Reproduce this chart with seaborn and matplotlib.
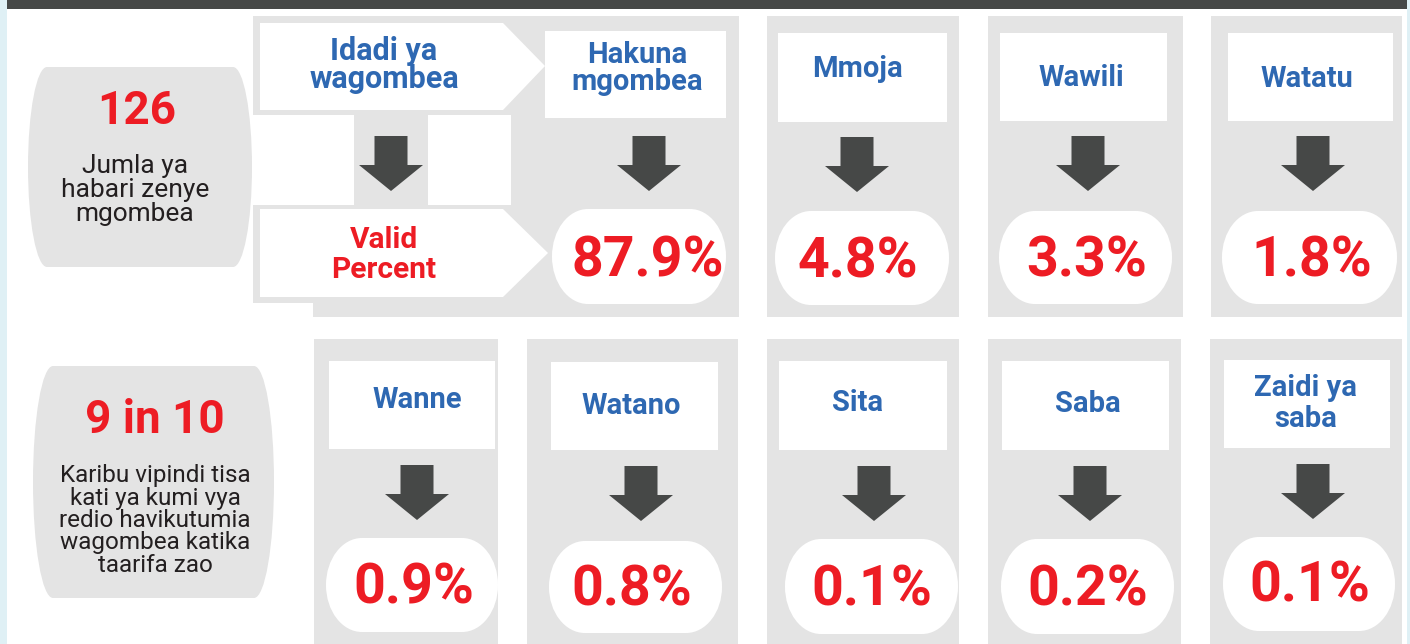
import matplotlib
matplotlib.use("Agg")
import matplotlib.pyplot as plt
from matplotlib.path import Path
from matplotlib.patches import PathPatch, Polygon, Rectangle
import seaborn as sns

# ---------------- data ----------------
total_items = 126
total_caption = ["Jumla ya", "habari zenye", "mgombea"]
share_headline = "9 in 10"
share_caption = ["Karibu vipindi tisa", "kati ya kumi vya", "redio havikutumia",
                 "wagombea katika", "taarifa zao"]
header_label = ["Idadi ya", "wagombea"]
percent_label = ["Valid", "Percent"]
categories = ["Hakuna\nmgombea", "Mmoja", "Wawili", "Watatu",
              "Wanne", "Watano", "Sita", "Saba", "Zaidi ya\nsaba"]
valid_percent = [87.9, 4.8, 3.3, 1.8, 0.9, 0.8, 0.1, 0.2, 0.1]

# ---------------- layout (pixels) ----------------
layout = [
    dict(grey=(313, 739, 16, 317), box=(545, 726, 31, 118), lx=637, lb=[63, 90], ax=649, at=136,
         vbox=(552, 726, 209, 304), vx=648, vb=276),
    dict(grey=(767, 959, 16, 317), box=(778, 947, 33, 122), lx=857, lb=[77], ax=857, at=137,
         vbox=(775, 949, 211, 305), vx=858, vb=277),
    dict(grey=(988, 1183, 16, 317), box=(1000, 1167, 33, 121), lx=1081, lb=[86], ax=1088, at=136,
         vbox=(999, 1172, 211, 304), vx=1087, vb=276),
    dict(grey=(1211, 1402, 16, 317), box=(1228, 1393, 33, 121), lx=1307, lb=[87], ax=1313, at=136,
         vbox=(1222, 1397, 211, 304), vx=1312, vb=276),
    dict(grey=(314, 498, 339, 650), box=(329, 495, 361, 449), lx=417, lb=[408], ax=417, at=465,
         vbox=(326, 498, 538, 632), vx=414, vb=603),
    dict(grey=(527, 738, 339, 650), box=(551, 718, 362, 450), lx=631, lb=[414], ax=641, at=466,
         vbox=(549, 722, 541, 633), vx=632, vb=605),
    dict(grey=(767, 959, 339, 650), box=(779, 947, 361, 450), lx=858, lb=[411], ax=874, at=466,
         vbox=(785, 958, 539, 634), vx=872, vb=605),
    dict(grey=(988, 1181, 339, 650), box=(1002, 1169, 361, 450), lx=1088, lb=[412], ax=1090, at=466,
         vbox=(1001, 1174, 539, 634), vx=1088, vb=605),
    dict(grey=(1210, 1402, 339, 650), box=(1224, 1390, 360, 448), lx=1306, lb=[396, 427], ax=1313, at=464,
         vbox=(1223, 1395, 537, 631), vx=1310, vb=602),
]

GREY = "#e4e4e4"
DARK = "#464847"
RED = "#ed1c24"
BLUE = "#2e68b2"
INK = "#231f20"
STRIP = "#dff0f5"

sns.set_theme(style="white")
plt.rcParams["font.family"] = ["Roboto", "DejaVu Sans"]

fig = plt.figure(figsize=(14.1, 6.44), dpi=100)
ax = fig.add_axes([0, 0, 1, 1])
ax.set_xlim(0, 1410)
ax.set_ylim(644, 0)
ax.axis("off")


def rect(x0, x1, y0, y1, color, z=1):
    ax.add_patch(Rectangle((x0, y0), x1 - x0, y1 - y0, facecolor=color, edgecolor="none", zorder=z))


def barrel(x0, x1, y0, y1, rx, color, z=3):
    ry = (y1 - y0) / 2.0
    k = 0.5523
    verts = [
        (x0 + rx, y0), (x1 - rx, y0),
        (x1 - rx + k * rx, y0), (x1, y0 + ry - k * ry), (x1, y0 + ry),
        (x1, y0 + ry + k * ry), (x1 - rx + k * rx, y1), (x1 - rx, y1),
        (x0 + rx, y1),
        (x0 + rx - k * rx, y1), (x0, y1 - ry + k * ry), (x0, y1 - ry),
        (x0, y0 + ry - k * ry), (x0 + rx - k * rx, y0), (x0 + rx, y0),
        (x0 + rx, y0),
    ]
    codes = [Path.MOVETO, Path.LINETO,
             Path.CURVE4, Path.CURVE4, Path.CURVE4,
             Path.CURVE4, Path.CURVE4, Path.CURVE4,
             Path.LINETO,
             Path.CURVE4, Path.CURVE4, Path.CURVE4,
             Path.CURVE4, Path.CURVE4, Path.CURVE4,
             Path.CLOSEPOLY]
    ax.add_patch(PathPatch(Path(verts, codes), facecolor=color, edgecolor="none", zorder=z))


def arrow(cx, top, z=4):
    pts = [(cx - 16.5, top), (cx + 16.5, top), (cx + 16.5, top + 29), (cx + 32, top + 29),
           (cx, top + 55), (cx - 32, top + 29), (cx - 16.5, top + 29)]
    ax.add_patch(Polygon(pts, closed=True, facecolor=DARK, edgecolor="none", zorder=z))


# frame strips
rect(0, 7, 0, 644, STRIP, 0)
rect(1407, 1410, 0, 644, STRIP, 0)
rect(7, 1407, 0, 9, DARK, 1)

# left header area (chevrons)
rect(253, 739, 16, 303, GREY, 1)
rect(253, 354, 115, 205, "white", 2)
rect(428, 511, 115, 205, "white", 2)
ax.add_patch(Polygon([(260, 23), (503, 23), (545, 66), (503, 110), (260, 110)],
                     closed=True, facecolor="white", edgecolor="none", zorder=3))
ax.add_patch(Polygon([(260, 209), (503, 209), (548, 253), (503, 297), (260, 297)],
                     closed=True, facecolor="white", edgecolor="none", zorder=3))
arrow(391, 136)
for line, yb in zip(header_label, [60, 88]):
    ax.text(384, yb, line, ha="center", va="baseline", color=BLUE, fontsize=22,
            fontweight="bold", zorder=5)
for line, yb in zip(percent_label, [248, 278]):
    ax.text(384, yb, line, ha="center", va="baseline", color=RED, fontsize=21.5,
            fontweight="bold", zorder=5)

# summary pills
barrel(28, 252, 67, 267, 19, GREY, 2)
ax.text(137, 124, f"{total_items}", ha="center", va="baseline", color=RED, fontsize=33,
        fontweight="bold", zorder=5)
for i, line in enumerate(total_caption):
    ax.text(135, 173 + 24 * i, line, ha="center", va="baseline", color=INK, fontsize=19, zorder=5)

barrel(33, 274, 366, 598, 20, GREY, 2)
ax.text(155, 433, share_headline, ha="center", va="baseline", color=RED, fontsize=33,
        fontweight="bold", zorder=5)
for i, line in enumerate(share_caption):
    ax.text(155, 482 + 22.5 * i, line, ha="center", va="baseline", color=INK, fontsize=17.5, zorder=5)

# category columns
for cat, val, lay in zip(categories, valid_percent, layout):
    gx0, gx1, gy0, gy1 = lay["grey"]
    rect(gx0, gx1, gy0, gy1, GREY, 1)
    bx0, bx1, by0, by1 = lay["box"]
    rect(bx0, bx1, by0, by1, "white", 3)
    for line, yb in zip(cat.split("\n"), lay["lb"]):
        ax.text(lay["lx"], yb, line, ha="center", va="baseline", color=BLUE, fontsize=21,
                fontweight="bold", zorder=5)
    arrow(lay["ax"], lay["at"])
    vx0, vx1, vy0, vy1 = lay["vbox"]
    barrel(vx0, vx1, vy0, vy1, 36, "white", 3)
    ax.text(lay["vx"], lay["vb"], f"{val:.1f}%", ha="center", va="baseline", color=RED,
            fontsize=40, fontweight="bold", zorder=5)

fig.savefig("out.png", dpi=100, facecolor="white")
